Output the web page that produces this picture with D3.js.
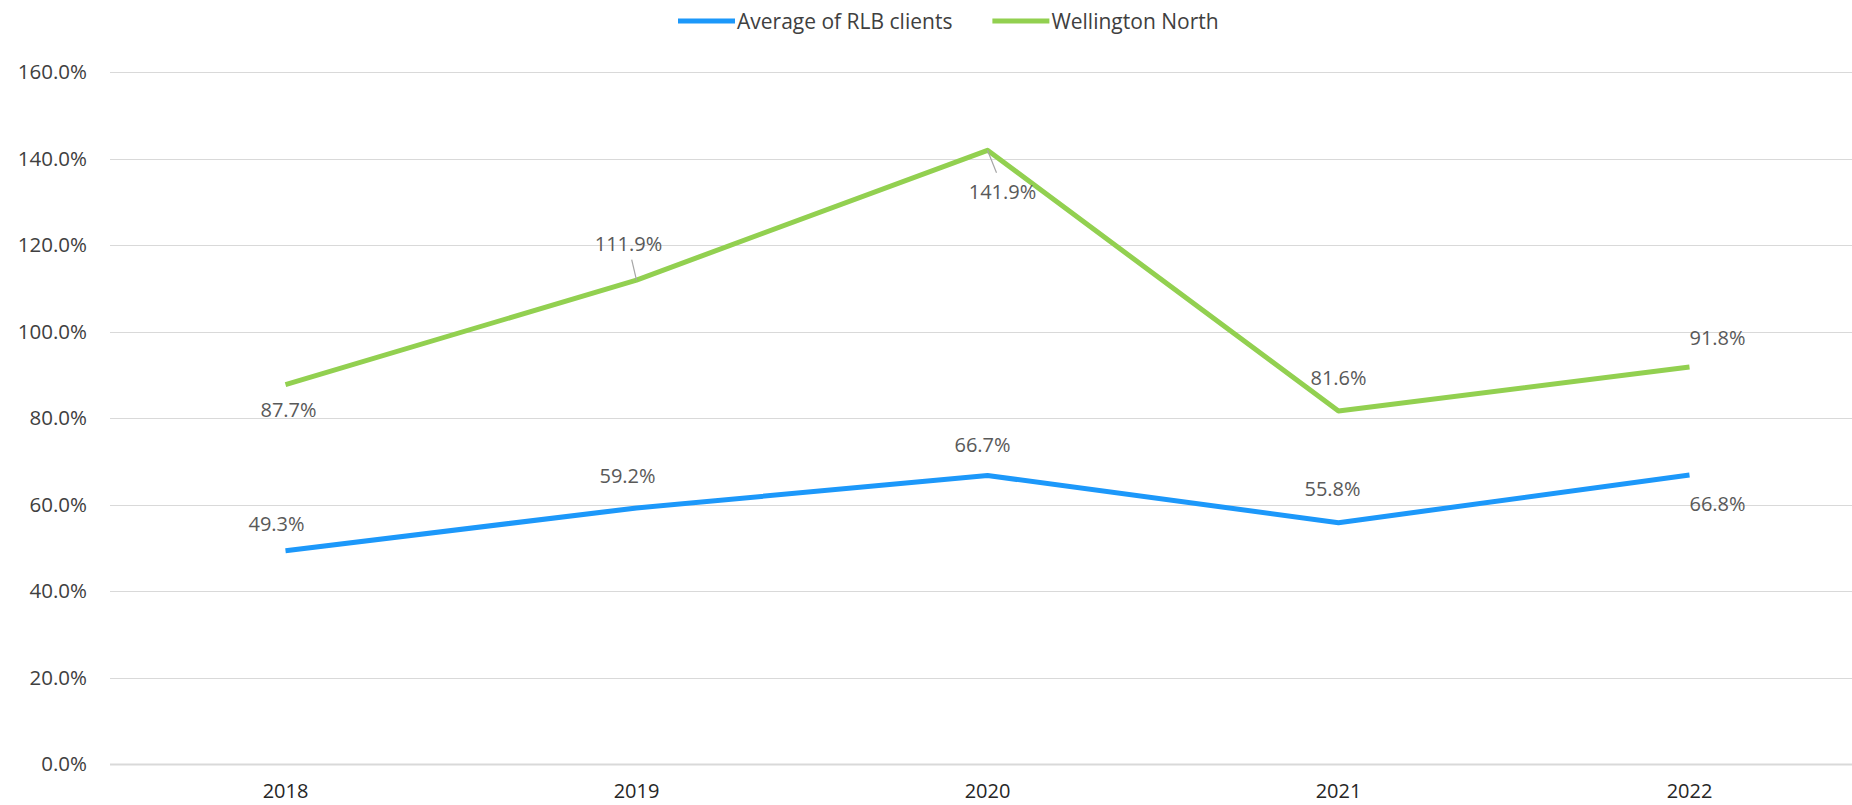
<!DOCTYPE html>
<html>
<head>
<meta charset="utf-8">
<script src="https://cdn.jsdelivr.net/npm/d3@7"></script>
<style>
body { margin:0; background:white; }
svg text { font-family:"Open Sans", sans-serif; }
</style>
</head>
<body>
<svg id="chart"></svg>
<script>
// values
var years = ["2018","2019","2020","2021","2022"];
var rlbAverage = [49.3, 59.2, 66.7, 55.8, 66.8];
var wellingtonNorth = [87.7, 111.9, 141.9, 81.6, 91.8];
var yTicks = [0, 20, 40, 60, 80, 100, 120, 140, 160];
var seriesNames = ["Average of RLB clients", "Wellington North"];

// where each data label sits relative to its point (dx, dy) - hand placed like the original
var rlbLabelOffsets = [[-9,-27],[-9,-32],[-5,-31],[-6,-34],[28,28]];
var wnLabelOffsets = [[3,25],[-8,-37],[15,41],[0,-34],[28,-29]];

var screen = {width:1852, height:805};
var colors = {rlb:"#1C98FA", wn:"#92D050"};

var svg = d3.select("#chart")
    .attr("width", screen.width)
    .attr("height", screen.height);

var xScale = d3.scaleBand()
    .domain(years)
    .range([110, 1865]);

var yScale = d3.scaleLinear()
    .domain([0, 160])
    .range([764, 72]);

var xMid = function(year) { return xScale(year) + xScale.bandwidth()/2; };

var drawGrid = function()
{
    var grid = svg.append("g").attr("id","grid");
    grid.selectAll("line")
        .data(yTicks)
        .enter()
        .append("line")
        .attr("x1", 110)
        .attr("x2", screen.width)
        .attr("y1", function(t) { return Math.round(yScale(t)) + 0.5; })
        .attr("y2", function(t) { return Math.round(yScale(t)) + 0.5; })
        .attr("stroke", "#D9D9D9")
        .attr("stroke-width", function(t) { return t == 0 ? 2 : 1; });
}

var drawAxes = function()
{
    var yAxis = d3.axisLeft(yScale)
        .tickValues(yTicks)
        .tickSize(0)
        .tickPadding(0)
        .tickFormat(function(d) { return d.toFixed(1) + "%"; });

    var yG = svg.append("g")
        .attr("transform", "translate(87,0)")
        .call(yAxis);
    yG.select(".domain").remove();
    yG.selectAll("text")
        .attr("font-size", "20.5px")
        .attr("font-family", "Open Sans")
        .attr("fill", "#404040");

    var xAxis = d3.axisBottom(xScale)
        .tickSize(0)
        .tickPadding(0);

    var xG = svg.append("g")
        .attr("transform", "translate(0,784)")
        .call(xAxis);
    xG.select(".domain").remove();
    xG.selectAll("text")
        .attr("font-size", "20px")
        .attr("font-family", "Open Sans")
        .attr("fill", "#262626");
}

var drawLine = function(values, color)
{
    var line = d3.line()
        .x(function(d, i) { return xMid(years[i]); })
        .y(function(d) { return yScale(d); });

    svg.append("path")
        .datum(values)
        .attr("fill", "none")
        .attr("stroke", color)
        .attr("stroke-width", 5)
        .attr("stroke-linejoin", "round")
        .attr("d", line);
}

var drawLabels = function(values, offsets, leaders)
{
    var g = svg.append("g");

    // leader lines for labels pulled away from the point
    g.selectAll("line")
        .data(leaders)
        .enter()
        .append("line")
        .attr("x1", function(i) { return xMid(years[i]); })
        .attr("y1", function(i) { return yScale(values[i]); })
        .attr("x2", function(i) { return xMid(years[i]) + offsets[i][0]*0.6; })
        .attr("y2", function(i) { return yScale(values[i]) + offsets[i][1]*0.55; })
        .attr("stroke", "#A6A6A6")
        .attr("stroke-width", 1.2);

    g.selectAll("text")
        .data(values)
        .enter()
        .append("text")
        .text(function(d) { return d.toFixed(1) + "%"; })
        .attr("x", function(d, i) { return xMid(years[i]) + offsets[i][0]; })
        .attr("y", function(d, i) { return yScale(d) + offsets[i][1]; })
        .attr("text-anchor", "middle")
        .attr("dominant-baseline", "central")
        .attr("font-size", "20px")
        .attr("fill", "#595959");
}

var drawLegend = function()
{
    var legend = svg.append("g")
        .attr("id", "legend")
        .attr("transform", "translate(678,21)");

    var x = 0;
    var cols = [colors.rlb, colors.wn];
    seriesNames.forEach(function(name, i)
    {
        legend.append("line")
            .attr("x1", x).attr("x2", x + 57)
            .attr("y1", 0).attr("y2", 0)
            .attr("stroke", cols[i])
            .attr("stroke-width", 5);
        var t = legend.append("text")
            .text(name)
            .attr("x", x + 59)
            .attr("y", 0)
            .attr("dominant-baseline", "central")
            .attr("font-size", "21px")
            .attr("fill", "#404040");
        x = x + 59 + t.node().getComputedTextLength() + 40;
    });
}

drawGrid();
drawAxes();
drawLine(rlbAverage, colors.rlb);
drawLine(wellingtonNorth, colors.wn);
drawLabels(rlbAverage, rlbLabelOffsets, []);
drawLabels(wellingtonNorth, wnLabelOffsets, [1, 2]);
drawLegend();
</script>
</body>
</html>
